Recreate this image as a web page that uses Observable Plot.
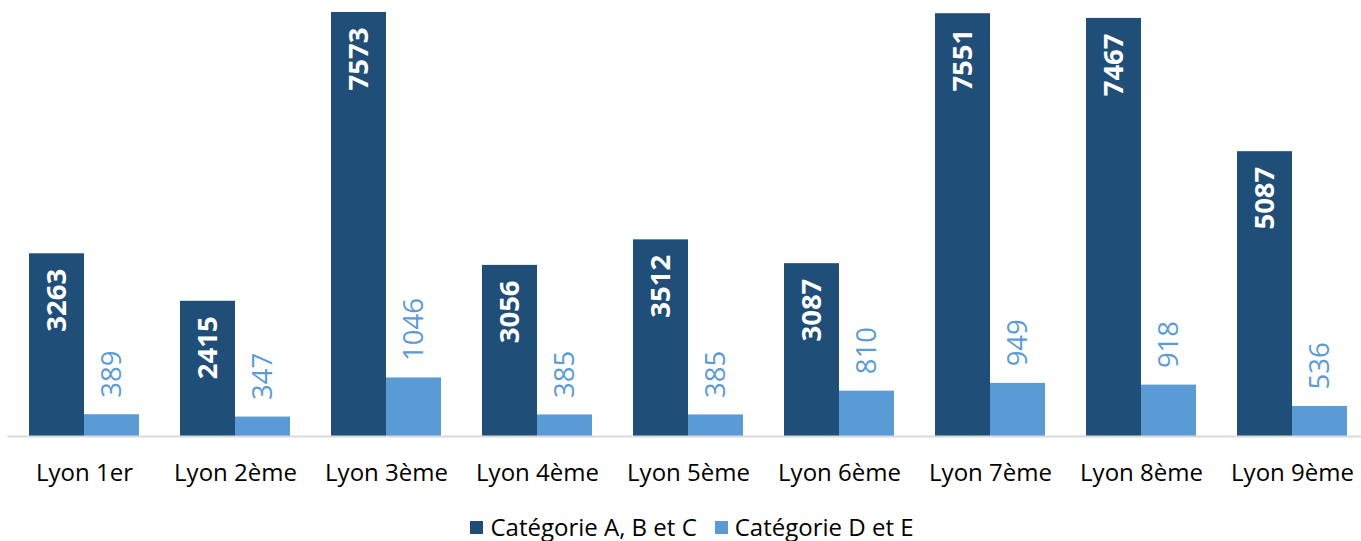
<!DOCTYPE html>
<html>
<head>
<meta charset="utf-8">
<script src="https://cdn.jsdelivr.net/npm/d3@7"></script>
<script src="https://cdn.jsdelivr.net/npm/@observablehq/plot@0.6"></script>
<style>
  html, body { margin: 0; padding: 0; background: #fff; overflow: hidden; }
  #chart { width: 1361px; }
  .legend { display: flex; justify-content: center; gap: 18px; font-family: "Open Sans", sans-serif; font-size: 24px; line-height: 30px; color: #000; margin-top: 12px; margin-left: 23px; }
  .legend span { display: inline-flex; align-items: center; }
  .legend i { display: inline-block; width: 13px; height: 13px; margin-right: 7px; }
</style>
</head>
<body>
<div id="chart"></div>
<script>
const arrondissements = ["Lyon 1er", "Lyon 2ème", "Lyon 3ème", "Lyon 4ème", "Lyon 5ème", "Lyon 6ème", "Lyon 7ème", "Lyon 8ème", "Lyon 9ème"];
const seriesNames = ["Catégorie A, B et C", "Catégorie D et E"];
const categorieABC = [3263, 2415, 7573, 3056, 3512, 3087, 7551, 7467, 5087];
const categorieDE = [389, 347, 1046, 385, 385, 810, 949, 918, 536];
const colors = ["#1f4e79", "#5b9bd5"];

const data = [];
arrondissements.forEach((a, i) => {
  data.push({arr: a, serie: seriesNames[0], value: categorieABC[i]});
  data.push({arr: a, serie: seriesNames[1], value: categorieDE[i]});
});
const dataA = data.filter(d => d.serie === seriesNames[0]);
const dataD = data.filter(d => d.serie === seriesNames[1]);

const plot = Plot.plot({
  width: 1361,
  height: 500,
  marginTop: 0,
  marginBottom: 64,
  marginLeft: 7,
  marginRight: -9,
  style: {fontFamily: "'Open Sans', sans-serif", background: "#fff", overflow: "visible"},
  fx: {domain: arrondissements, paddingInner: 0.27, paddingOuter: 0.135, label: null, axis: null},
  x: {domain: seriesNames, padding: 0, axis: null},
  y: {domain: [0, 7787], axis: null},
  color: {domain: seriesNames, range: colors},
  marks: [
    Plot.barY(data, {fx: "arr", x: "serie", y: "value", fill: "serie", inset: 0}),
    Plot.frame({anchor: "bottom", stroke: "#d9d9d9", strokeWidth: 2, facet: "super", insetLeft: -21, insetRight: -21}),
    Plot.text(dataA, {fx: "arr", x: "serie", y: "value", text: d => String(d.value), rotate: -90, textAnchor: "end", lineAnchor: "middle", dy: 15, fill: "#fff", fontWeight: "bold", fontSize: 27.5}),
    Plot.text(dataD, {fx: "arr", x: "serie", y: "value", text: d => String(d.value), rotate: -90, textAnchor: "start", lineAnchor: "middle", dy: -17, fill: "#5b9bd5", fontSize: 27.5}),
    Plot.axisFx({anchor: "bottom", tickSize: 0, tickPadding: 27, fontSize: 24, fill: "#000", label: null})
  ]
});
document.getElementById("chart").appendChild(plot);

const legend = document.createElement("div");
legend.className = "legend";
seriesNames.forEach((s, i) => {
  const span = document.createElement("span");
  const sw = document.createElement("i");
  sw.style.background = colors[i];
  span.appendChild(sw);
  span.appendChild(document.createTextNode(s));
  legend.appendChild(span);
});
document.getElementById("chart").appendChild(legend);
</script>
</body>
</html>
